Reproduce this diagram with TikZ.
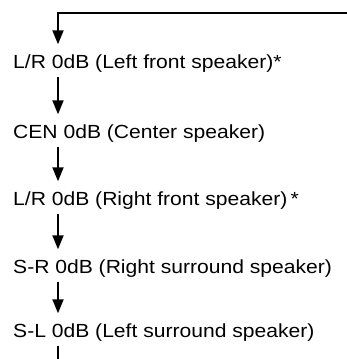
\documentclass[tikz,border=0pt]{standalone}
\usepackage{fontspec}
\setmainfont[FakeStretch=1.11]{Liberation Sans}
\usetikzlibrary{arrows.meta}
\begin{document}
\begin{tikzpicture}[x=1pt,y=1pt,
  lbl/.style={anchor=base west, inner xsep=0pt, inner ysep=5pt,
    text height=14pt, text depth=4pt,
    font=\fontsize{19pt}{22pt}\selectfont},
  conn/.style={line width=1.8pt, line join=miter},
  arr/.style={conn, -{Triangle[width=11pt,length=14pt]}, shorten >=4.5pt}]
\useasboundingbox (0,0) rectangle (347,-359);
\coordinate (ax) at (58,0);
\coordinate (tr) at (348,-13);
\coordinate (bot) at (58,-360);
\node[lbl] (n1) at (13,-68) {L/R 0dB (Left front speaker)*};
\node[lbl] (n2) at (13,-138) {CEN 0dB (Center speaker)};
\node[lbl] (n3) at (13,-205) {L/R 0dB (Right front speaker)\,*};
\node[lbl] (n4) at (13,-273) {S-R 0dB (Right surround speaker)};
\node[lbl] (n5) at (13,-337) {S-L 0dB (Left surround speaker)};
\draw[arr] (tr) -| (n1.north -| ax);
\draw[arr] (n1.south -| ax) -- (n2.north -| ax);
\draw[arr] (n2.south -| ax) -- (n3.north -| ax);
\draw[arr] (n3.south -| ax) -- (n4.north -| ax);
\draw[arr] (n4.south -| ax) -- (n5.north -| ax);
\draw[conn] (n5.south -| ax) -- (bot);
\end{tikzpicture}
\end{document}
